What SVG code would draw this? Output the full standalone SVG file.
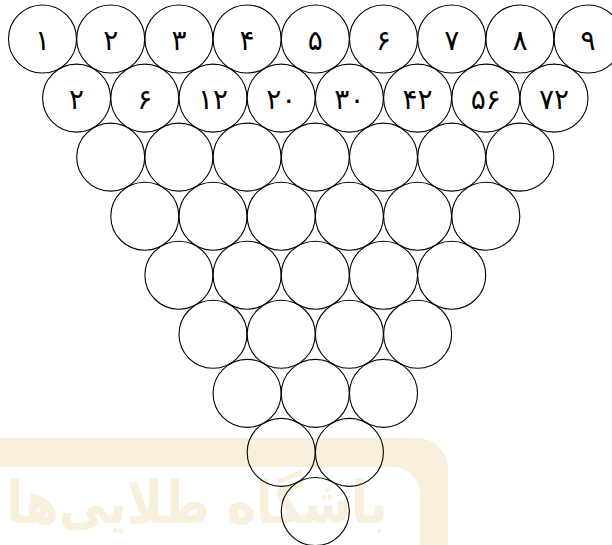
<svg xmlns="http://www.w3.org/2000/svg" width="612" height="545" viewBox="0 0 612 545">
<style>
.c{fill:none;stroke:#000;stroke-width:1.1}
.n{font-family:"DejaVu Sans",sans-serif;font-size:28px;text-anchor:middle;fill:#000}
.wm{fill:#f8efdc}
</style>
<g id="watermark">
<path class="wm" d="M0,438 H417 A31,31 0 0 1 448,469 V545 H420 V494 A27,27 0 0 0 393,467 H0 Z"/>
<text class="wm" transform="translate(197,523) scale(1,1.2)" x="0" y="0" font-family="DejaVu Sans,sans-serif" font-weight="bold" font-size="49" text-anchor="middle">باشگاه طلایی‌ها</text>
</g>
<g id="nodes">
<g id="n0-0"><circle class="c" cx="42.5" cy="39" r="34"/><text class="n" x="42.5" y="50">۱</text></g>
<g id="n0-1"><circle class="c" cx="110.7" cy="39" r="34"/><text class="n" x="110.7" y="50">۲</text></g>
<g id="n0-2"><circle class="c" cx="178.9" cy="39" r="34"/><text class="n" x="178.9" y="50">۳</text></g>
<g id="n0-3"><circle class="c" cx="247.1" cy="39" r="34"/><text class="n" x="247.1" y="50">۴</text></g>
<g id="n0-4"><circle class="c" cx="315.3" cy="39" r="34"/><text class="n" x="315.3" y="50">۵</text></g>
<g id="n0-5"><circle class="c" cx="383.5" cy="39" r="34"/><text class="n" x="383.5" y="50">۶</text></g>
<g id="n0-6"><circle class="c" cx="451.7" cy="39" r="34"/><text class="n" x="451.7" y="50">۷</text></g>
<g id="n0-7"><circle class="c" cx="519.9" cy="39" r="34"/><text class="n" x="519.9" y="50">۸</text></g>
<g id="n0-8"><circle class="c" cx="588.1" cy="39" r="34"/><text class="n" x="588.1" y="50">۹</text></g>
<g id="n1-0"><circle class="c" cx="76.6" cy="98.1" r="34"/><text class="n" x="76.6" y="109.1">۲</text></g>
<g id="n1-1"><circle class="c" cx="144.8" cy="98.1" r="34"/><text class="n" x="144.8" y="109.1">۶</text></g>
<g id="n1-2"><circle class="c" cx="213" cy="98.1" r="34"/><text class="n" x="213" y="109.1">۱۲</text></g>
<g id="n1-3"><circle class="c" cx="281.2" cy="98.1" r="34"/><text class="n" x="281.2" y="109.1">۲۰</text></g>
<g id="n1-4"><circle class="c" cx="349.4" cy="98.1" r="34"/><text class="n" x="349.4" y="109.1">۳۰</text></g>
<g id="n1-5"><circle class="c" cx="417.6" cy="98.1" r="34"/><text class="n" x="417.6" y="109.1">۴۲</text></g>
<g id="n1-6"><circle class="c" cx="485.8" cy="98.1" r="34"/><text class="n" x="485.8" y="109.1">۵۶</text></g>
<g id="n1-7"><circle class="c" cx="554" cy="98.1" r="34"/><text class="n" x="554" y="109.1">۷۲</text></g>
<g id="n2-0"><circle class="c" cx="110.7" cy="157.1" r="34"/></g>
<g id="n2-1"><circle class="c" cx="178.9" cy="157.1" r="34"/></g>
<g id="n2-2"><circle class="c" cx="247.1" cy="157.1" r="34"/></g>
<g id="n2-3"><circle class="c" cx="315.3" cy="157.1" r="34"/></g>
<g id="n2-4"><circle class="c" cx="383.5" cy="157.1" r="34"/></g>
<g id="n2-5"><circle class="c" cx="451.7" cy="157.1" r="34"/></g>
<g id="n2-6"><circle class="c" cx="519.9" cy="157.1" r="34"/></g>
<g id="n3-0"><circle class="c" cx="144.8" cy="216.2" r="34"/></g>
<g id="n3-1"><circle class="c" cx="213" cy="216.2" r="34"/></g>
<g id="n3-2"><circle class="c" cx="281.2" cy="216.2" r="34"/></g>
<g id="n3-3"><circle class="c" cx="349.4" cy="216.2" r="34"/></g>
<g id="n3-4"><circle class="c" cx="417.6" cy="216.2" r="34"/></g>
<g id="n3-5"><circle class="c" cx="485.8" cy="216.2" r="34"/></g>
<g id="n4-0"><circle class="c" cx="178.9" cy="275.2" r="34"/></g>
<g id="n4-1"><circle class="c" cx="247.1" cy="275.2" r="34"/></g>
<g id="n4-2"><circle class="c" cx="315.3" cy="275.2" r="34"/></g>
<g id="n4-3"><circle class="c" cx="383.5" cy="275.2" r="34"/></g>
<g id="n4-4"><circle class="c" cx="451.7" cy="275.2" r="34"/></g>
<g id="n5-0"><circle class="c" cx="213" cy="334.3" r="34"/></g>
<g id="n5-1"><circle class="c" cx="281.2" cy="334.3" r="34"/></g>
<g id="n5-2"><circle class="c" cx="349.4" cy="334.3" r="34"/></g>
<g id="n5-3"><circle class="c" cx="417.6" cy="334.3" r="34"/></g>
<g id="n6-0"><circle class="c" cx="247.1" cy="393.4" r="34"/></g>
<g id="n6-1"><circle class="c" cx="315.3" cy="393.4" r="34"/></g>
<g id="n6-2"><circle class="c" cx="383.5" cy="393.4" r="34"/></g>
<g id="n7-0"><circle class="c" cx="281.2" cy="452.4" r="34"/></g>
<g id="n7-1"><circle class="c" cx="349.4" cy="452.4" r="34"/></g>
<g id="n8-0"><circle class="c" cx="315.3" cy="511.5" r="34"/></g>
</g>
<g id="connectors"/>
</svg>
